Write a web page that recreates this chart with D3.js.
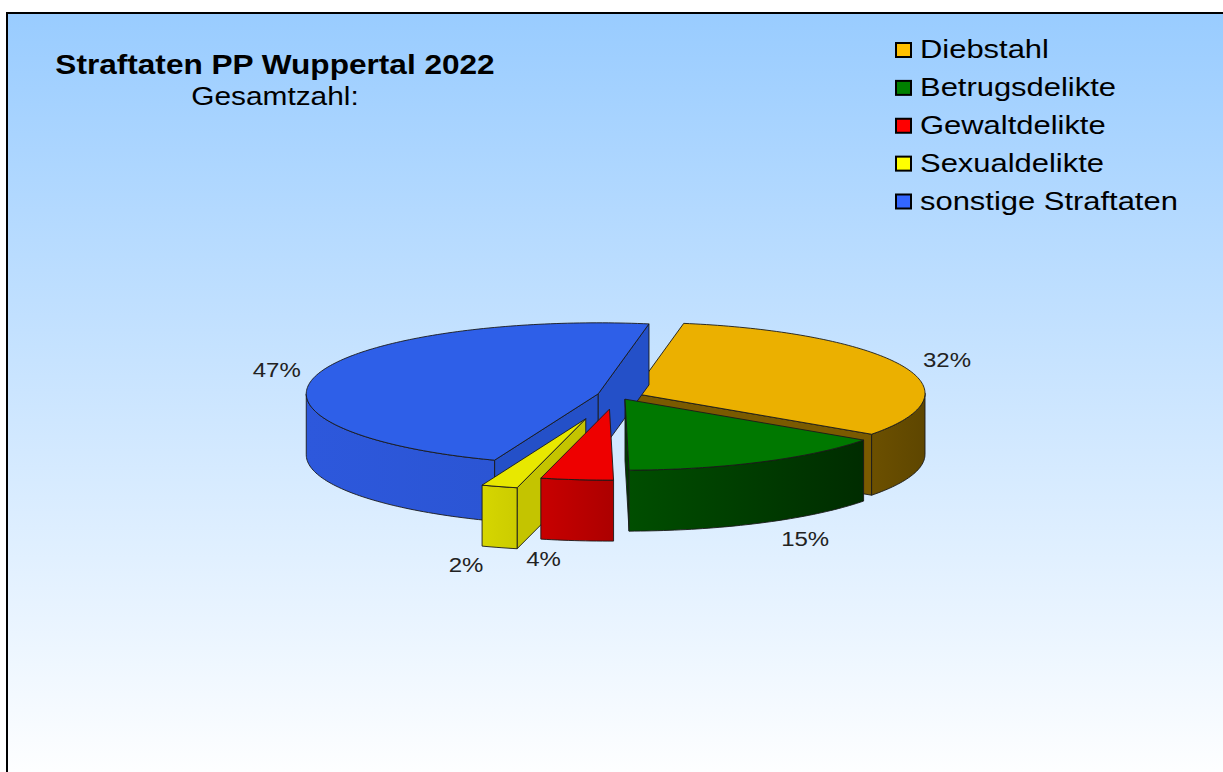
<!DOCTYPE html>
<html>
<head>
<meta charset="utf-8">
<script src="https://cdn.jsdelivr.net/npm/d3@7"></script>
<style>
html, body { margin: 0; padding: 0; background: #fff; }
svg { display: block; }
</style>
</head>
<body>
<div id="chart"></div>
<script>
// Straftaten PP Wuppertal 2022 - share of the offence types (percent)
const categories = ["Diebstahl", "Betrugsdelikte", "Gewaltdelikte", "Sexualdelikte", "sonstige Straftaten"];
const values = [32, 15, 4, 2, 47];
const labels = ["32%", "15%", "4%", "2%", "47%"];

// colours: legend swatch, lit top face, outer wall (left/right), cut faces
const legendColors = ["#ffc000", "#008000", "#ff0000", "#ffff00", "#3366ff"];
const topColors = ["#ebb000", "#007800", "#ee0000", "#e8e800", "#2e5fe8"];
const wallColors = [["#6c5000", "#5e4600"], ["#004e00", "#002c00"], ["#c80000", "#ac0000"], ["#d6d600", "#cccc00"], ["#2d58dc", "#2b55d4"]];
const faceColors = ["#7a5a00", "#003800", "#a00000", "#c4c400", "#2450c8"];
const explode = [0.063, 0.066, 0.2, 0.35, 0.063];

const W = 1223, H = 772;
const cx = 616, cy = 395, rx = 292, ry = 71, depth = 61;
const stretch = 1.17;   // the original text is drawn a bit wider than normal
const font = "'Liberation Sans', Arial, sans-serif";

const svg = d3.select("#chart")
    .append("svg")
        .attr("width", W)
        .attr("height", H);

const defs = svg.append("defs");
const bg = defs.append("linearGradient")
    .attr("id", "bg")
    .attr("x1", 0).attr("y1", 0).attr("x2", 0).attr("y2", 1);
bg.append("stop").attr("offset", "0%").attr("stop-color", "#99ccff");
bg.append("stop").attr("offset", "100%").attr("stop-color", "#ffffff");

// chart area with the black frame (only top and left edge are visible)
svg.append("rect")
    .attr("x", 7).attr("y", 13)
    .attr("width", W).attr("height", H)
    .attr("fill", "url(#bg)");
svg.append("path")
    .attr("d", `M7,${H} V13 H${W}`)
    .attr("fill", "none")
    .attr("stroke", "#000")
    .attr("stroke-width", 2);

// title
svg.append("text")
    .attr("transform", "translate(275,74) scale(" + stretch + ",1)")
    .attr("text-anchor", "middle")
    .style("font-family", font)
    .style("font-weight", "bold")
    .style("font-size", "27px")
    .attr("fill", "#000")
    .text("Straftaten PP Wuppertal 2022");
svg.append("text")
    .attr("transform", "translate(275,105) scale(" + stretch + ",1)")
    .attr("text-anchor", "middle")
    .style("font-family", font)
    .style("font-size", "25.5px")
    .attr("fill", "#000")
    .text("Gesamtzahl:");

// pie layout, first slice starts a little right of 12 o'clock
const pie = d3.pie()
    .sort(null)
    .value(d => d)
    .startAngle(10 * Math.PI / 180)
    .endAngle(370 * Math.PI / 180);
const arcs = pie(values);

function pt(t, o, dz) {
    return [cx + o[0] + rx * Math.sin(t), cy + o[1] - ry * Math.cos(t) + (dz || 0)];
}
function arcPts(a, b, o, dz) {
    const n = Math.max(2, Math.ceil((b - a) / 0.02));
    return d3.range(n + 1).map(i => pt(a + (b - a) * i / n, o, dz));
}
const line = d3.line();

const slices = arcs.map((d, i) => {
    const m = (d.startAngle + d.endAngle) / 2;
    const o = [explode[i] * rx * Math.sin(m), -explode[i] * ry * Math.cos(m)];
    return {i: i, a: d.startAngle, b: d.endAngle, m: m, o: o};
});

// paint back to front
const order = slices.slice().sort((p, q) => Math.cos(q.m) - Math.cos(p.m));
const pieG = svg.append("g")
    .attr("stroke", "#1a1a1a")
    .attr("stroke-width", 0.9)
    .attr("stroke-linejoin", "round");

const front0 = Math.PI / 2, front1 = 3 * Math.PI / 2;

order.forEach(s => {
    const g = pieG.append("g");
    const apex = [cx + s.o[0], cy + s.o[1]];
    const apexB = [apex[0], apex[1] + depth];

    // cut faces
    if (Math.sin(s.a) < 0) {
        const p = pt(s.a, s.o);
        g.append("path")
            .attr("d", line([apex, p, [p[0], p[1] + depth], apexB]) + "Z")
            .attr("fill", faceColors[s.i]);
    }
    if (Math.sin(s.b) > 0) {
        const p = pt(s.b, s.o);
        g.append("path")
            .attr("d", line([apex, p, [p[0], p[1] + depth], apexB]) + "Z")
            .attr("fill", faceColors[s.i]);
    }

    // outer wall, only the part facing the viewer
    const f0 = Math.max(s.a, front0), f1 = Math.min(s.b, front1);
    if (f1 > f0) {
        const topEdge = arcPts(f0, f1, s.o, 0);
        const botEdge = arcPts(f0, f1, s.o, depth).reverse();
        const xs = topEdge.map(p => p[0]);
        const gid = "wall" + s.i;
        const lg = defs.append("linearGradient")
            .attr("id", gid)
            .attr("gradientUnits", "userSpaceOnUse")
            .attr("x1", d3.min(xs)).attr("x2", d3.max(xs))
            .attr("y1", 0).attr("y2", 0);
        lg.append("stop").attr("offset", "0%").attr("stop-color", wallColors[s.i][0]);
        lg.append("stop").attr("offset", "100%").attr("stop-color", wallColors[s.i][1]);
        g.append("path")
            .attr("d", line(topEdge.concat(botEdge)) + "Z")
            .attr("fill", "url(#" + gid + ")");
    }

    // top face
    g.append("path")
        .attr("d", line([apex].concat(arcPts(s.a, s.b, s.o, 0))) + "Z")
        .attr("fill", topColors[s.i]);
});

// percentage labels beside the rim
slices.forEach(s => {
    const front = Math.cos(s.m) < 0;
    const p = pt(s.m, s.o, front ? depth : 0);
    const right = Math.sin(s.m) > 0;
    svg.append("text")
        .attr("transform", "translate(" + (p[0] + (right ? 20 : -16)) + "," + (p[1] - Math.cos(s.m) * 18) + ") scale(" + stretch + ",1)")
        .attr("text-anchor", right ? "start" : "end")
        .attr("dy", "0.35em")
        .style("font-family", font)
        .style("font-size", "20.5px")
        .attr("fill", "#222")
        .text(labels[s.i]);
});

// legend
const legY = d3.scalePoint()
    .domain(categories)
    .range([50, 201.5]);
const leg = svg.append("g");
leg.selectAll("rect")
    .data(categories)
    .enter()
    .append("rect")
        .attr("x", 896)
        .attr("y", d => legY(d) - 7)
        .attr("width", 15)
        .attr("height", 14)
        .attr("fill", (d, i) => legendColors[i])
        .attr("stroke", "#000")
        .attr("stroke-width", 2);
leg.selectAll("text")
    .data(categories)
    .enter()
    .append("text")
        .attr("transform", d => "translate(920," + (legY(d) + 8) + ") scale(1.19,1)")
        .style("font-family", font)
        .style("font-size", "26px")
        .attr("fill", "#000")
        .text(d => d);
</script>
</body>
</html>
